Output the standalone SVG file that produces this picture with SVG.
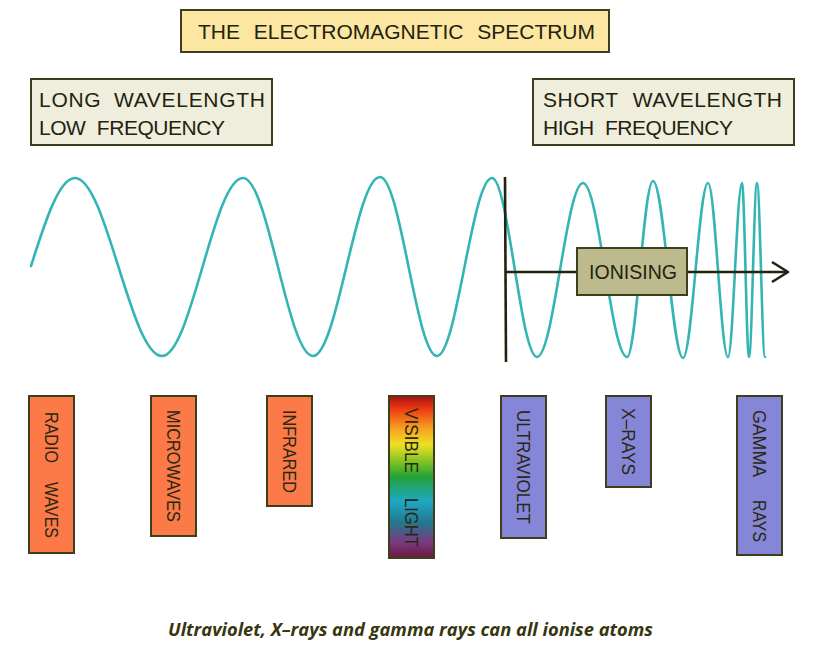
<svg xmlns="http://www.w3.org/2000/svg" width="817" height="650" viewBox="0 0 817 650">
<style>
.box{stroke:#3e3d1c;stroke-width:2}
.hdr{font-family:"Liberation Sans",Arial,sans-serif;font-size:21px;fill:#23220f}
.lbl{font-family:"Liberation Sans",Arial,sans-serif;font-size:18px;fill:#2a2812}
.orange{fill:#fb7a48}
.purple{fill:#8586d8}
.wave{fill:none;stroke:#33b5b3;stroke-width:2.6;stroke-linecap:round}
.ln{stroke:#22220f;stroke-width:2.6;fill:none}
.cap{font-family:"Open Sans","Liberation Sans",sans-serif;font-size:17px;font-style:italic;font-weight:700;fill:#37360f}
</style>
<defs>
<linearGradient id="vis" x1="0" y1="0" x2="0" y2="1">
<stop offset="0" stop-color="#a80f12"/>
<stop offset="0.08" stop-color="#ee3a14"/>
<stop offset="0.2" stop-color="#f7a020"/>
<stop offset="0.3" stop-color="#eee023"/>
<stop offset="0.4" stop-color="#86c424"/>
<stop offset="0.5" stop-color="#22a236"/>
<stop offset="0.65" stop-color="#1fa8c6"/>
<stop offset="0.78" stop-color="#22788e"/>
<stop offset="0.9" stop-color="#7a3a82"/>
<stop offset="1" stop-color="#6a1840"/>
</linearGradient>
</defs>

<g id="title">
<rect class="box" x="181" y="10" width="428" height="42" fill="#fbe6a2"/>
<text class="hdr" x="198" y="39" textLength="397" lengthAdjust="spacing" style="word-spacing:8px">THE ELECTROMAGNETIC SPECTRUM</text>
</g>

<g id="long">
<rect class="box" x="31" y="79" width="241" height="66" fill="#efeedd"/>
<text class="hdr" x="39" y="107" textLength="226" lengthAdjust="spacing" style="word-spacing:6px">LONG WAVELENGTH</text>
<text class="hdr" x="39" y="135" textLength="186" lengthAdjust="spacing" style="word-spacing:6px">LOW FREQUENCY</text>
</g>

<g id="short">
<rect class="box" x="533" y="79" width="261" height="66" fill="#efeedd"/>
<text class="hdr" x="543" y="107" textLength="239" lengthAdjust="spacing" style="word-spacing:8px">SHORT WAVELENGTH</text>
<text class="hdr" x="543" y="135" textLength="190" lengthAdjust="spacing" style="word-spacing:6px">HIGH FREQUENCY</text>
</g>

<g id="wave">
<path class="wave" d="M31,266 C45.3,221 59.1,178 75,178 C106.3,178 130.7,356 162,356 C191.2,356 213.8,178 243,178 C268.2,178 287.8,356 313,356 C337.1,356 355.9,177 380,177 C400.5,177 416.5,356 437,356 C456.8,356 472.2,178 492,178 C508.2,178 520.8,357 537,357 C553.6,357 566.4,183 583,183 C598.8,183 611.2,357 627,357 C636.4,357 643.6,181 653,181 C663.8,181 672.2,358 683,358 C692,358 699,183 708,183 C715.2,183 720.8,357 728,357 C733,357 737,183 742,183 C744.5,183 746.5,357 749,357 C751.9,357 754.1,183 757,183 C759.9,183 762.1,357 765,357"/>
</g>

<g id="connectors">
<line class="ln" x1="505" y1="177" x2="506" y2="362"/>
<line class="ln" x1="506" y1="272" x2="787" y2="272"/>
<polyline class="ln" points="772,262 788,272 772,282" stroke-linejoin="round"/>
</g>

<g id="ionising">
<rect class="box" x="577" y="248" width="110" height="47" fill="#bdba8e"/>
<text class="hdr" x="589" y="279" textLength="88" lengthAdjust="spacingAndGlyphs">IONISING</text>
</g>

<g id="radio">
<rect class="box orange" x="29" y="396" width="45" height="157"/>
<text class="lbl" transform="translate(51.5,412) rotate(90)" x="0" y="6.5" textLength="51" lengthAdjust="spacingAndGlyphs">RADIO</text>
<text class="lbl" transform="translate(51.5,482) rotate(90)" x="0" y="6.5" textLength="56" lengthAdjust="spacingAndGlyphs">WAVES</text>
</g>

<g id="microwaves">
<rect class="box orange" x="151" y="396" width="45" height="140"/>
<text class="lbl" transform="translate(173.5,410) rotate(90)" x="0" y="6.5" textLength="112" lengthAdjust="spacingAndGlyphs">MICROWAVES</text>
</g>

<g id="infrared">
<rect class="box orange" x="267" y="396" width="45" height="110"/>
<text class="lbl" transform="translate(289.5,410) rotate(90)" x="0" y="6.5" textLength="83" lengthAdjust="spacingAndGlyphs">INFRARED</text>
</g>

<g id="visible">
<rect class="box" x="389" y="396" width="45" height="162" fill="url(#vis)"/>
<text class="lbl" transform="translate(411.5,408) rotate(90)" x="0" y="6.5" textLength="65" lengthAdjust="spacingAndGlyphs">VISIBLE</text>
<text class="lbl" transform="translate(411.5,498) rotate(90)" x="0" y="6.5" textLength="49" lengthAdjust="spacingAndGlyphs">LIGHT</text>
</g>

<g id="ultraviolet">
<rect class="box purple" x="501" y="396" width="45" height="142"/>
<text class="lbl" transform="translate(523.5,410) rotate(90)" x="0" y="6.5" textLength="114" lengthAdjust="spacingAndGlyphs">ULTRAVIOLET</text>
</g>

<g id="xrays">
<rect class="box purple" x="606" y="396" width="45" height="91"/>
<text class="lbl" transform="translate(628.5,408) rotate(90)" x="0" y="6.5" textLength="67" lengthAdjust="spacingAndGlyphs">X–RAYS</text>
</g>

<g id="gamma">
<rect class="box purple" x="737" y="396" width="45" height="159"/>
<text class="lbl" transform="translate(759.5,410) rotate(90)" x="0" y="6.5" textLength="67" lengthAdjust="spacingAndGlyphs">GAMMA</text>
<text class="lbl" transform="translate(759.5,500) rotate(90)" x="0" y="6.5" textLength="42" lengthAdjust="spacingAndGlyphs">RAYS</text>
</g>

<g id="caption">
<text class="cap" x="168" y="636" textLength="485" lengthAdjust="spacingAndGlyphs">Ultraviolet, X–rays and gamma rays can all ionise atoms</text>
</g>
</svg>
